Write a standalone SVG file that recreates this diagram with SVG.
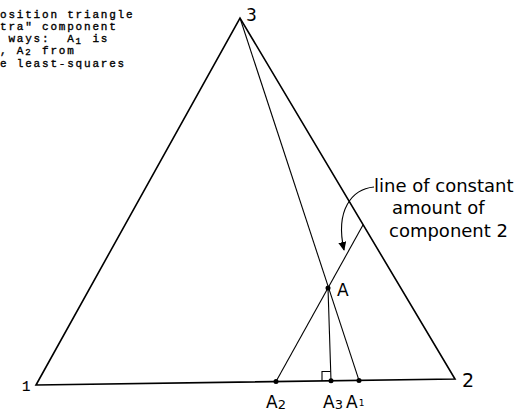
<svg xmlns="http://www.w3.org/2000/svg" width="525" height="411" viewBox="0 0 525 411">
<style>
.mono{font-family:"Liberation Mono","DejaVu Sans Mono",monospace;font-size:11px;letter-spacing:1.8px;fill:#000;stroke:#000;stroke-width:0.35}
.sub{font-size:9px}
.lbl{font-family:"DejaVu Sans","Liberation Sans",sans-serif;fill:#000}
.side{stroke:#000;stroke-width:1.6;fill:none;stroke-linejoin:miter}
.thin{stroke:#000;stroke-width:1.1;fill:none}
.dot{fill:#000}
</style>
<defs>
<marker id="ah" markerWidth="10" markerHeight="10" refX="8" refY="4" orient="auto" markerUnits="userSpaceOnUse">
<path d="M0,0 L9,4 L0,8 Z" fill="#000"/>
</marker>
</defs>
<rect width="525" height="411" fill="#fff"/>
<g id="caption">
<text class="mono" x="0" y="18">osition triangle</text>
<text class="mono" x="0" y="30">tra" component</text>
<text class="mono" y="42"><tspan x="8.4">ways:</tspan><tspan x="67.2">A</tspan><tspan class="sub" x="75.6" dy="2">1</tspan><tspan x="92.4" dy="-2">is</tspan></text>
<text class="mono" y="54"><tspan x="0">,</tspan><tspan x="16.8">A</tspan><tspan class="sub" x="25.2" dy="1">2</tspan><tspan x="42" dy="-1">from</tspan></text>
<text class="mono" x="0" y="67">e least-squares</text>
</g>
<g id="connectors">
<path id="triangle" class="side" d="M36,385 L455,379 L240,18 Z"/>
<line class="thin" x1="240" y1="18" x2="359" y2="380.4"/>
<line class="thin" x1="276" y1="381.6" x2="363.1" y2="224.8"/>
<line class="thin" x1="328" y1="288" x2="331" y2="380.8"/>
<path class="thin" d="M322,381 V371.5 H330.5"/>
<path class="thin" d="M374,187 C352,189 335,210 344,250" marker-end="url(#ah)"/>
</g>
<g id="vertex-1"><text class="mono" x="22" y="391" style="font-size:14px;letter-spacing:0;stroke-width:0.2">1</text></g>
<g id="vertex-2"><text class="lbl" x="462" y="387" font-size="19">2</text></g>
<g id="vertex-3"><text class="lbl" x="246" y="21" font-size="17">3</text></g>
<g id="point-A"><circle class="dot" cx="328" cy="288" r="2.5"/><text class="lbl" x="337" y="296" font-size="17">A</text></g>
<g id="point-A2"><circle class="dot" cx="276" cy="381.6" r="2.5"/><text class="lbl" x="266" y="408" font-size="17">A<tspan font-size="13" dy="1">2</tspan></text></g>
<g id="point-A3"><circle class="dot" cx="331" cy="380.8" r="2.5"/><text class="lbl" x="323" y="408" font-size="17">A<tspan font-size="13" dy="1">3</tspan></text></g>
<g id="point-A1"><circle class="dot" cx="359" cy="380.4" r="2.5"/><text class="lbl" x="346" y="408" font-size="17">A<tspan font-size="9" dx="1" dy="-2">1</tspan></text></g>
<g id="label-line">
<text class="lbl" x="374" y="192" font-size="18">line of constant</text>
<text class="lbl" x="392" y="214" font-size="18">amount of</text>
<text class="lbl" x="389" y="237" font-size="18">component 2</text>
</g>
</svg>
